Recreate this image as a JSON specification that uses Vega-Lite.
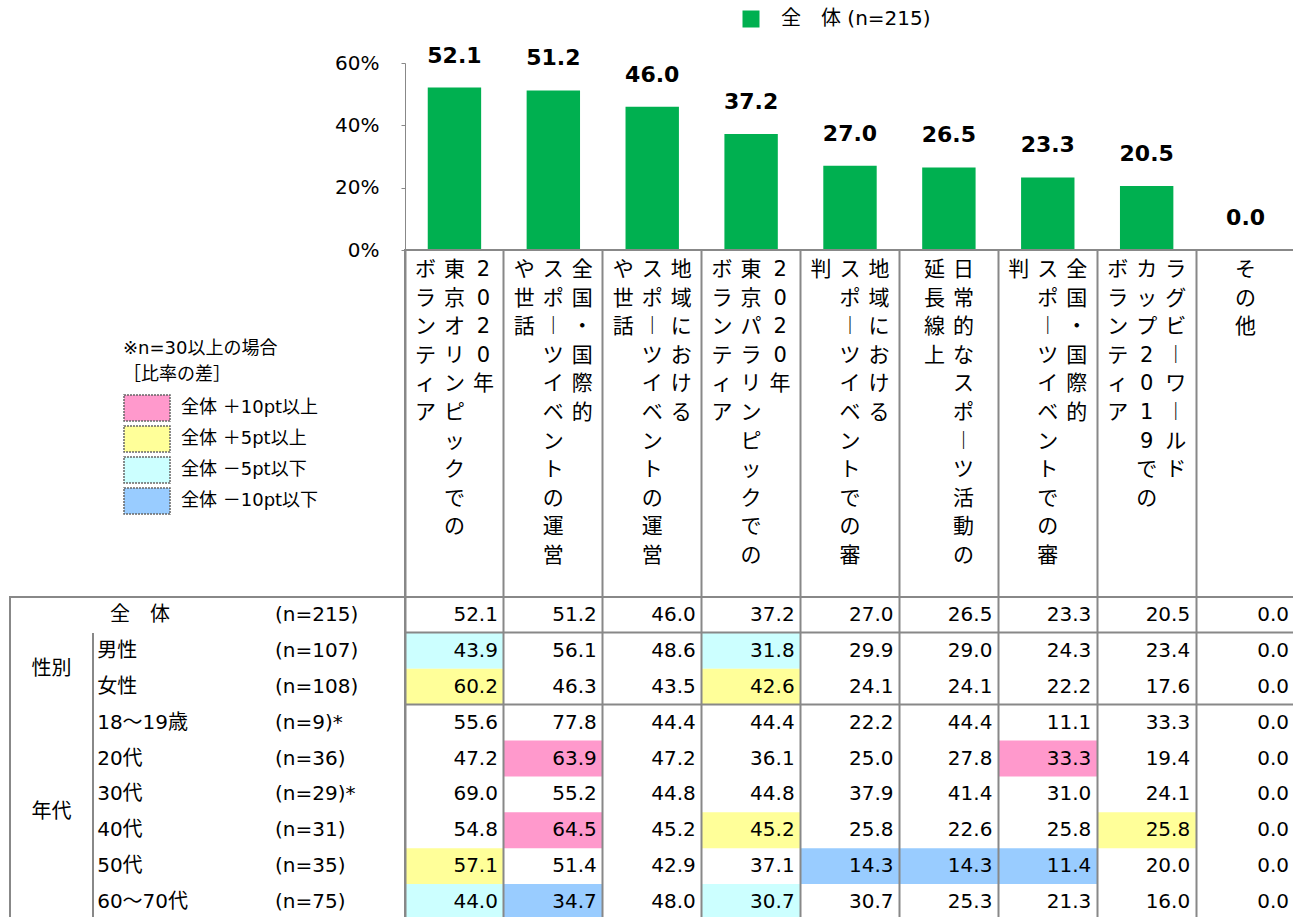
{
  "$schema": "https://vega.github.io/schema/vega-lite/v6.json",
  "padding": {"left": 9, "top": 9, "right": 0, "bottom": 0},
  "background": "white",
  "config": {
    "font": "DejaVu Sans, Noto Sans CJK JP",
    "view": {"stroke": null},
    "text": {"color": "#000"}
  },
  "datasets": {
    "bars": [
      {"item": "2020年東京オリンピックでのボランティア", "pct": 52.1, "series": "全　体 (n=215)"},
      {"item": "全国・国際的スポーツイベントの運営や世話", "pct": 51.2, "series": "全　体 (n=215)"},
      {"item": "地域におけるスポーツイベントの運営や世話", "pct": 46.0, "series": "全　体 (n=215)"},
      {"item": "2020年東京パラリンピックでのボランティア", "pct": 37.2, "series": "全　体 (n=215)"},
      {"item": "地域におけるスポーツイベントでの審判", "pct": 27.0, "series": "全　体 (n=215)"},
      {"item": "日常的なスポーツ活動の延長線上", "pct": 26.5, "series": "全　体 (n=215)"},
      {"item": "全国・国際的スポーツイベントでの審判", "pct": 23.3, "series": "全　体 (n=215)"},
      {"item": "ラグビーワールドカップ2019でのボランティア", "pct": 20.5, "series": "全　体 (n=215)"},
      {"item": "その他", "pct": 0.0, "series": "全　体 (n=215)"}
    ],
    "header": [
      {"item": "2020年東京オリンピックでのボランティア", "slot": 1, "t": "2\n0\n2\n0\n年"},
      {"item": "2020年東京オリンピックでのボランティア", "slot": 0, "t": "東\n京\nオ\nリ\nン\nピ\nッ\nク\nで\nの"},
      {"item": "2020年東京オリンピックでのボランティア", "slot": -1, "t": "ボ\nラ\nン\nテ\nィ\nア"},
      {"item": "全国・国際的スポーツイベントの運営や世話", "slot": 1, "t": "全\n国\n・\n国\n際\n的"},
      {"item": "全国・国際的スポーツイベントの運営や世話", "slot": 0, "t": "ス\nポ\n︱\nツ\nイ\nベ\nン\nト\nの\n運\n営"},
      {"item": "全国・国際的スポーツイベントの運営や世話", "slot": -1, "t": "や\n世\n話"},
      {"item": "地域におけるスポーツイベントの運営や世話", "slot": 1, "t": "地\n域\nに\nお\nけ\nる"},
      {"item": "地域におけるスポーツイベントの運営や世話", "slot": 0, "t": "ス\nポ\n︱\nツ\nイ\nベ\nン\nト\nの\n運\n営"},
      {"item": "地域におけるスポーツイベントの運営や世話", "slot": -1, "t": "や\n世\n話"},
      {"item": "2020年東京パラリンピックでのボランティア", "slot": 1, "t": "2\n0\n2\n0\n年"},
      {"item": "2020年東京パラリンピックでのボランティア", "slot": 0, "t": "東\n京\nパ\nラ\nリ\nン\nピ\nッ\nク\nで\nの"},
      {"item": "2020年東京パラリンピックでのボランティア", "slot": -1, "t": "ボ\nラ\nン\nテ\nィ\nア"},
      {"item": "地域におけるスポーツイベントでの審判", "slot": 1, "t": "地\n域\nに\nお\nけ\nる"},
      {"item": "地域におけるスポーツイベントでの審判", "slot": 0, "t": "ス\nポ\n︱\nツ\nイ\nベ\nン\nト\nで\nの\n審"},
      {"item": "地域におけるスポーツイベントでの審判", "slot": -1, "t": "判"},
      {"item": "日常的なスポーツ活動の延長線上", "slot": 0.5, "t": "日\n常\n的\nな\nス\nポ\n︱\nツ\n活\n動\nの"},
      {"item": "日常的なスポーツ活動の延長線上", "slot": -0.5, "t": "延\n長\n線\n上"},
      {"item": "全国・国際的スポーツイベントでの審判", "slot": 1, "t": "全\n国\n・\n国\n際\n的"},
      {"item": "全国・国際的スポーツイベントでの審判", "slot": 0, "t": "ス\nポ\n︱\nツ\nイ\nベ\nン\nト\nで\nの\n審"},
      {"item": "全国・国際的スポーツイベントでの審判", "slot": -1, "t": "判"},
      {"item": "ラグビーワールドカップ2019でのボランティア", "slot": 1, "t": "ラ\nグ\nビ\n︱\nワ\n︱\nル\nド"},
      {"item": "ラグビーワールドカップ2019でのボランティア", "slot": 0, "t": "カ\nッ\nプ\n2\n0\n1\n9\nで\nの"},
      {"item": "ラグビーワールドカップ2019でのボランティア", "slot": -1, "t": "ボ\nラ\nン\nテ\nィ\nア"},
      {"item": "その他", "slot": 0, "t": "そ\nの\n他"}
    ],
    "table": [
      {"row": "全体", "label": "全　体", "n": "(n=215)", "2020年東京オリンピックでのボランティア": 52.1, "全国・国際的スポーツイベントの運営や世話": 51.2, "地域におけるスポーツイベントの運営や世話": 46.0, "2020年東京パラリンピックでのボランティア": 37.2, "地域におけるスポーツイベントでの審判": 27.0, "日常的なスポーツ活動の延長線上": 26.5, "全国・国際的スポーツイベントでの審判": 23.3, "ラグビーワールドカップ2019でのボランティア": 20.5, "その他": 0.0},
      {"row": "男性", "label": "男性", "n": "(n=107)", "2020年東京オリンピックでのボランティア": 43.9, "全国・国際的スポーツイベントの運営や世話": 56.1, "地域におけるスポーツイベントの運営や世話": 48.6, "2020年東京パラリンピックでのボランティア": 31.8, "地域におけるスポーツイベントでの審判": 29.9, "日常的なスポーツ活動の延長線上": 29.0, "全国・国際的スポーツイベントでの審判": 24.3, "ラグビーワールドカップ2019でのボランティア": 23.4, "その他": 0.0},
      {"row": "女性", "label": "女性", "n": "(n=108)", "2020年東京オリンピックでのボランティア": 60.2, "全国・国際的スポーツイベントの運営や世話": 46.3, "地域におけるスポーツイベントの運営や世話": 43.5, "2020年東京パラリンピックでのボランティア": 42.6, "地域におけるスポーツイベントでの審判": 24.1, "日常的なスポーツ活動の延長線上": 24.1, "全国・国際的スポーツイベントでの審判": 22.2, "ラグビーワールドカップ2019でのボランティア": 17.6, "その他": 0.0},
      {"row": "18～19歳", "label": "18～19歳", "n": "(n=9)*", "2020年東京オリンピックでのボランティア": 55.6, "全国・国際的スポーツイベントの運営や世話": 77.8, "地域におけるスポーツイベントの運営や世話": 44.4, "2020年東京パラリンピックでのボランティア": 44.4, "地域におけるスポーツイベントでの審判": 22.2, "日常的なスポーツ活動の延長線上": 44.4, "全国・国際的スポーツイベントでの審判": 11.1, "ラグビーワールドカップ2019でのボランティア": 33.3, "その他": 0.0},
      {"row": "20代", "label": "20代", "n": "(n=36)", "2020年東京オリンピックでのボランティア": 47.2, "全国・国際的スポーツイベントの運営や世話": 63.9, "地域におけるスポーツイベントの運営や世話": 47.2, "2020年東京パラリンピックでのボランティア": 36.1, "地域におけるスポーツイベントでの審判": 25.0, "日常的なスポーツ活動の延長線上": 27.8, "全国・国際的スポーツイベントでの審判": 33.3, "ラグビーワールドカップ2019でのボランティア": 19.4, "その他": 0.0},
      {"row": "30代", "label": "30代", "n": "(n=29)*", "2020年東京オリンピックでのボランティア": 69.0, "全国・国際的スポーツイベントの運営や世話": 55.2, "地域におけるスポーツイベントの運営や世話": 44.8, "2020年東京パラリンピックでのボランティア": 44.8, "地域におけるスポーツイベントでの審判": 37.9, "日常的なスポーツ活動の延長線上": 41.4, "全国・国際的スポーツイベントでの審判": 31.0, "ラグビーワールドカップ2019でのボランティア": 24.1, "その他": 0.0},
      {"row": "40代", "label": "40代", "n": "(n=31)", "2020年東京オリンピックでのボランティア": 54.8, "全国・国際的スポーツイベントの運営や世話": 64.5, "地域におけるスポーツイベントの運営や世話": 45.2, "2020年東京パラリンピックでのボランティア": 45.2, "地域におけるスポーツイベントでの審判": 25.8, "日常的なスポーツ活動の延長線上": 22.6, "全国・国際的スポーツイベントでの審判": 25.8, "ラグビーワールドカップ2019でのボランティア": 25.8, "その他": 0.0},
      {"row": "50代", "label": "50代", "n": "(n=35)", "2020年東京オリンピックでのボランティア": 57.1, "全国・国際的スポーツイベントの運営や世話": 51.4, "地域におけるスポーツイベントの運営や世話": 42.9, "2020年東京パラリンピックでのボランティア": 37.1, "地域におけるスポーツイベントでの審判": 14.3, "日常的なスポーツ活動の延長線上": 14.3, "全国・国際的スポーツイベントでの審判": 11.4, "ラグビーワールドカップ2019でのボランティア": 20.0, "その他": 0.0},
      {"row": "60～70代", "label": "60～70代", "n": "(n=75)", "2020年東京オリンピックでのボランティア": 44.0, "全国・国際的スポーツイベントの運営や世話": 34.7, "地域におけるスポーツイベントの運営や世話": 48.0, "2020年東京パラリンピックでのボランティア": 30.7, "地域におけるスポーツイベントでの審判": 30.7, "日常的なスポーツ活動の延長線上": 25.3, "全国・国際的スポーツイベントでの審判": 21.3, "ラグビーワールドカップ2019でのボランティア": 16.0, "その他": 0.0}
    ],
    "hl": [
      {"row": "男性", "item": "2020年東京オリンピックでのボランティア", "hl": "全体 －5pt以下"},
      {"row": "男性", "item": "2020年東京パラリンピックでのボランティア", "hl": "全体 －5pt以下"},
      {"row": "女性", "item": "2020年東京オリンピックでのボランティア", "hl": "全体 ＋5pt以上"},
      {"row": "女性", "item": "2020年東京パラリンピックでのボランティア", "hl": "全体 ＋5pt以上"},
      {"row": "20代", "item": "全国・国際的スポーツイベントの運営や世話", "hl": "全体 ＋10pt以上"},
      {"row": "20代", "item": "全国・国際的スポーツイベントでの審判", "hl": "全体 ＋10pt以上"},
      {"row": "40代", "item": "全国・国際的スポーツイベントの運営や世話", "hl": "全体 ＋10pt以上"},
      {"row": "40代", "item": "2020年東京パラリンピックでのボランティア", "hl": "全体 ＋5pt以上"},
      {"row": "40代", "item": "ラグビーワールドカップ2019でのボランティア", "hl": "全体 ＋5pt以上"},
      {"row": "50代", "item": "2020年東京オリンピックでのボランティア", "hl": "全体 ＋5pt以上"},
      {"row": "50代", "item": "地域におけるスポーツイベントでの審判", "hl": "全体 －10pt以下"},
      {"row": "50代", "item": "日常的なスポーツ活動の延長線上", "hl": "全体 －10pt以下"},
      {"row": "50代", "item": "全国・国際的スポーツイベントでの審判", "hl": "全体 －10pt以下"},
      {"row": "60～70代", "item": "2020年東京オリンピックでのボランティア", "hl": "全体 －5pt以下"},
      {"row": "60～70代", "item": "全国・国際的スポーツイベントの運営や世話", "hl": "全体 －10pt以下"},
      {"row": "60～70代", "item": "2020年東京パラリンピックでのボランティア", "hl": "全体 －5pt以下"}
    ],
    "groups": [
      {"row": "男性", "grp": "性別"},
      {"row": "30代", "grp": "年代"}
    ]
  },
  "columns": 2,
  "align": "each",
  "bounds": "flush",
  "spacing": 0,
  "resolve": {"scale": {"xOffset": "independent"}, "legend": {"color": "independent", "fill": "independent"}},
  "concat": [
    {
      "width": 395, "height": 187,
      "data": {"values": [{}]},
      "mark": {"type": "text", "text": ""},
      "encoding": {}
    },
    {
      "width": 890, "height": 187,
      "data": {"name": "bars"},
      "encoding": {
        "x": {"field": "item", "type": "nominal", "sort": null, "scale": {"type": "band", "paddingInner": 0.46, "paddingOuter": 0.23}, "axis": null},
        "y": {"field": "pct", "type": "quantitative", "scale": {"domain": [0, 60], "nice": false},
              "axis": {"values": [0, 20, 40, 60], "labelExpr": "datum.value + '%'", "title": null, "grid": false, "domainColor": "#888", "tickColor": "#888", "tickSize": 4, "labelFontSize": 20, "labelPadding": 22, "labelColor": "#000", "labelFont": "DejaVu Sans"}}
      },
      "layer": [
        {
          "mark": {"type": "bar"},
          "encoding": {
            "color": {"field": "series", "type": "nominal", "scale": {"range": ["#00B050"]},
                      "legend": {"orient": "none", "legendX": 336, "legendY": -54, "title": null, "symbolType": "square", "symbolSize": 289, "symbolStrokeWidth": 0, "symbolOpacity": 1, "labelFontSize": 20, "labelOffset": 20, "labelColor": "#000", "labelLimit": 300, "padding": 0}}
          }
        },
        {
          "mark": {"type": "text", "fontWeight": "bold", "fontSize": 22, "baseline": "alphabetic", "dy": -25, "font": "DejaVu Sans"},
          "encoding": {"text": {"field": "pct", "type": "quantitative", "format": ".1f"}}
        }
      ]
    },
    {
      "width": 395, "height": 347,
      "data": {"values": [{}]},
      "mark": {"type": "text", "text": ""},
      "encoding": {}
    },
    {
      "width": 890, "height": 347,
      "view": {"stroke": "#888", "strokeWidth": 2},
      "data": {"name": "header"},
      "mark": {"type": "text", "lineBreak": "\n", "lineHeight": 28.6, "fontSize": 21, "baseline": "top", "align": "center", "y": 9, "color": "#000"},
      "encoding": {
        "x": {"field": "item", "type": "nominal", "sort": null, "scale": {"type": "band", "paddingInner": 0, "paddingOuter": 0},
              "axis": {"grid": true, "bandPosition": 0, "labels": false, "ticks": false, "domain": false, "title": null, "gridColor": "#888", "gridWidth": 2, "zindex": 1}},
        "xOffset": {"field": "slot", "type": "quantitative", "scale": {"domain": [-1, 1], "range": [20.45, 78.45]}},
        "text": {"field": "t"}
      }
    },
    {
      "width": 395, "height": 323,
      "view": {"stroke": "#888", "strokeWidth": 2},
      "layer": [
        {
          "data": {"name": "table"},
          "transform": [{"filter": "datum.row !== '全体'"}],
          "mark": {"type": "text", "align": "left", "fontSize": 20},
          "encoding": {
            "x": {"datum": "label", "type": "nominal", "bandPosition": 0.05, "scale": {"type": "band", "domain": ["group", "label", "spacer", "n"], "paddingInner": 0, "paddingOuter": 0.3795, "align": 0}, "axis": null},
            "y": {"field": "row", "type": "nominal", "scale": {"type": "band", "domain": ["全体", "男性", "女性", "18～19歳", "20代", "30代", "40代", "50代", "60～70代"], "paddingInner": 0, "paddingOuter": 0},
                  "axis": {"values": ["男性", "18～19歳"], "grid": true, "bandPosition": 0, "labels": false, "ticks": false, "domain": false, "title": null, "gridColor": "#888", "gridWidth": 2, "zindex": 1}},
            "text": {"field": "label"}
          }
        },
        {
          "data": {"name": "table"},
          "transform": [{"filter": "datum.row === '全体'"}],
          "mark": {"type": "text", "align": "center", "fontSize": 20},
          "encoding": {
            "x": {"datum": "label", "type": "nominal", "bandPosition": 0.566, "scale": {"type": "band"}, "axis": null},
            "y": {"field": "row", "type": "nominal", "scale": {"type": "band"}, "axis": null},
            "text": {"field": "label"}
          }
        },
        {
          "data": {"name": "table"},
          "mark": {"type": "text", "align": "left", "fontSize": 20},
          "encoding": {
            "x": {"datum": "n", "type": "nominal", "bandPosition": 0.193, "scale": {"type": "band"}, "axis": null},
            "y": {"field": "row", "type": "nominal", "scale": {"type": "band"}, "axis": null},
            "text": {"field": "n"}
          }
        },
        {
          "data": {"name": "groups"},
          "mark": {"type": "text", "align": "center", "fontSize": 20},
          "encoding": {
            "x": {"datum": "group", "type": "nominal", "bandPosition": 0.5, "scale": {"type": "band"}, "axis": null},
            "y": {"field": "row", "type": "nominal", "bandPosition": 1, "scale": {"type": "band"}, "axis": null},
            "text": {"field": "grp"}
          }
        },
        {
          "data": {"values": [{"row": "男性"}]},
          "mark": {"type": "rule", "color": "#888", "strokeWidth": 2},
          "encoding": {
            "x": {"datum": "label", "type": "nominal", "bandPosition": 0, "scale": {"type": "band"}, "axis": null},
            "y": {"field": "row", "type": "nominal", "bandPosition": 0, "scale": {"type": "band"}, "axis": null},
            "y2": {"value": "height"}
          }
        }
      ]
    },
    {
      "width": 890, "height": 323,
      "view": {"stroke": "#888", "strokeWidth": 2},
      "encoding": {
        "x": {"field": "item", "type": "nominal",
              "scale": {"type": "band", "domain": ["2020年東京オリンピックでのボランティア", "全国・国際的スポーツイベントの運営や世話", "地域におけるスポーツイベントの運営や世話", "2020年東京パラリンピックでのボランティア", "地域におけるスポーツイベントでの審判", "日常的なスポーツ活動の延長線上", "全国・国際的スポーツイベントでの審判", "ラグビーワールドカップ2019でのボランティア", "その他"], "paddingInner": 0, "paddingOuter": 0},
              "axis": {"grid": true, "bandPosition": 0, "labels": false, "ticks": false, "domain": false, "title": null, "gridColor": "#888", "gridWidth": 2, "zindex": 1}},
        "y": {"field": "row", "type": "nominal",
              "scale": {"type": "band", "domain": ["全体", "男性", "女性", "18～19歳", "20代", "30代", "40代", "50代", "60～70代"], "paddingInner": 0, "paddingOuter": 0},
              "axis": {"values": ["男性", "18～19歳"], "grid": true, "bandPosition": 0, "labels": false, "ticks": false, "domain": false, "title": null, "gridColor": "#888", "gridWidth": 2, "zindex": 1}}
      },
      "layer": [
        {
          "data": {"name": "hl"},
          "mark": {"type": "rect", "strokeWidth": 0},
          "encoding": {
            "fill": {"field": "hl", "type": "nominal",
                     "scale": {"domain": ["全体 ＋10pt以上", "全体 ＋5pt以上", "全体 －5pt以下", "全体 －10pt以下"], "range": ["#FF99CC", "#FFFF99", "#CCFFFF", "#99CCFF"]},
                     "legend": {"orient": "none", "legendX": -282, "legendY": -257, "title": ["※n=30以上の場合", "［比率の差］"], "titleFontSize": 18, "titleFontWeight": "normal", "titleLineHeight": 26, "titlePadding": 10, "titleColor": "#000", "labelFontSize": 18, "labelColor": "#000", "labelOffset": 20, "labelLimit": 300, "symbolType": "M-1.77,-1H1.77V1H-1.77Z", "symbolSize": 676, "symbolOffset": 10, "symbolStrokeColor": "#666", "symbolStrokeWidth": 1.5, "symbolDash": [2, 1], "symbolOpacity": 1, "rowPadding": -1, "padding": 0}}
          }
        },
        {
          "data": {"name": "table"},
          "transform": [{"fold": ["2020年東京オリンピックでのボランティア", "全国・国際的スポーツイベントの運営や世話", "地域におけるスポーツイベントの運営や世話", "2020年東京パラリンピックでのボランティア", "地域におけるスポーツイベントでの審判", "日常的なスポーツ活動の延長線上", "全国・国際的スポーツイベントでの審判", "ラグビーワールドカップ2019でのボランティア", "その他"], "as": ["item", "v"]}],
          "mark": {"type": "text", "align": "right", "fontSize": 20},
          "encoding": {
            "x": {"field": "item", "type": "nominal", "bandPosition": 0.94},
            "text": {"field": "v", "type": "quantitative", "format": ".1f"}
          }
        }
      ]
    }
  ]
}
